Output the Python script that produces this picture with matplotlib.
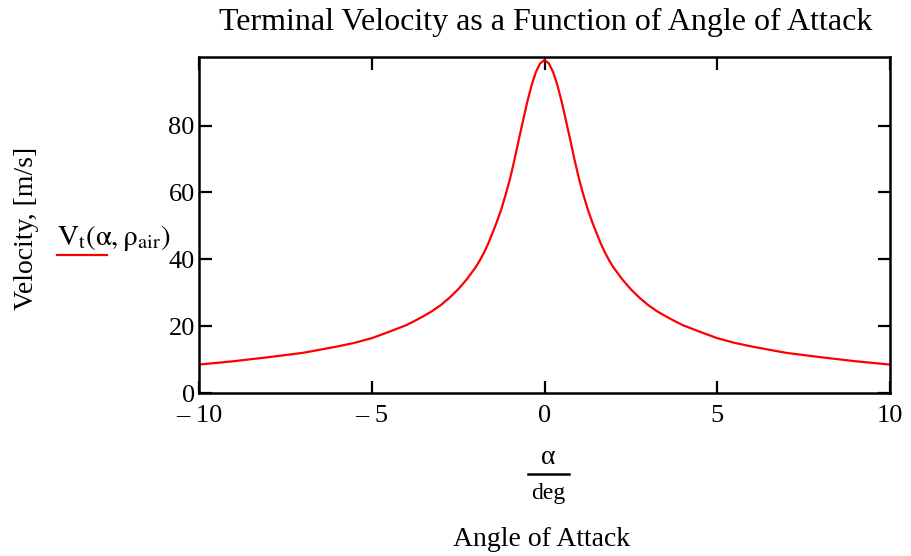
import matplotlib
matplotlib.use('Agg')
import matplotlib.pyplot as plt
from matplotlib.lines import Line2D

# half curve (alpha >= 0), velocity is symmetric in alpha
alpha_half = [0.0, 0.125, 0.25, 0.375, 0.5, 0.625, 0.75, 0.875, 1.0, 1.125, 1.25,
              1.375, 1.5, 1.625, 1.75, 1.875, 2.0, 2.25, 2.5, 2.75, 3.0, 3.25,
              3.5, 3.75, 4.0, 4.5, 5.0, 5.5, 6.0, 7.0, 8.0, 9.0, 10.0]
vel_half = [99.6, 98.6, 96.0, 92.0, 87.0, 81.3, 75.5, 69.5, 64.0, 59.3, 55.0,
            51.3, 48.0, 44.8, 42.0, 39.6, 37.5, 34.0, 31.0, 28.5, 26.3, 24.5,
            23.0, 21.6, 20.3, 18.3, 16.4, 15.0, 13.9, 12.0, 10.7, 9.5, 8.5]

alpha = [-a for a in reversed(alpha_half[1:])] + alpha_half
velocity = list(reversed(vel_half[1:])) + vel_half

x_ticks = [-10, -5, 0, 5, 10]
x_tick_labels = ['\u2013 10', '\u2013 5', '0', '5', '10']
y_ticks = [0, 20, 40, 60, 80]

plt.rcParams['font.family'] = ['Liberation Serif', 'DejaVu Serif']
plt.rcParams['mathtext.fontset'] = 'stix'

fig = plt.figure(figsize=(9.11, 5.56), dpi=100)
ax = fig.add_axes([199 / 911, 1 - 393 / 556, (890 - 199) / 911, (393 - 57) / 556])

ax.plot(alpha, velocity, color='#ff0000', linewidth=1.6)

ax.set_xlim(-10, 10)
ax.set_ylim(0, 100.5)
ax.set_xticks(x_ticks)
ax.set_xticklabels(x_tick_labels)
ax.set_yticks(y_ticks)
ax.tick_params(direction='in', length=9, width=1.6, labelsize=19,
               top=True, right=True, colors='black')
ax.tick_params(axis='x', pad=9)
ax.tick_params(axis='y', pad=3)
for s in ax.spines.values():
    s.set_linewidth(1.8)

fig.text(546 / 911, 1 - 22 / 556, 'Terminal Velocity as a Function of Angle of Attack',
         ha='center', va='center', fontsize=23)

fig.text(27 / 911, 1 - 228 / 556, 'Velocity, [m/s]', rotation=90,
         ha='center', va='center', fontsize=20)

# legend entry
fig.text(57 / 911, 1 - 238 / 556, r'$\mathrm{V_t\left(\alpha, \rho_{air}\right)}$',
         ha='left', va='center', fontsize=21)
fig.add_artist(Line2D([57 / 911, 107 / 911], [1 - 255 / 556, 1 - 255 / 556],
                      color='#ff0000', linewidth=1.6))

# x axis label: alpha / deg
fig.text(548 / 911, 1 - 457 / 556, '\u03b1', ha='center', va='center', fontsize=20)
fig.add_artist(Line2D([528 / 911, 569 / 911], [1 - 474 / 556, 1 - 474 / 556],
                      color='black', linewidth=1.8))
fig.text(548 / 911, 1 - 494 / 556, 'deg', ha='center', va='center', fontsize=17)
fig.text(542 / 911, 1 - 540 / 556, 'Angle of Attack', ha='center', va='center', fontsize=20)

fig.savefig('out.png', dpi=100)
